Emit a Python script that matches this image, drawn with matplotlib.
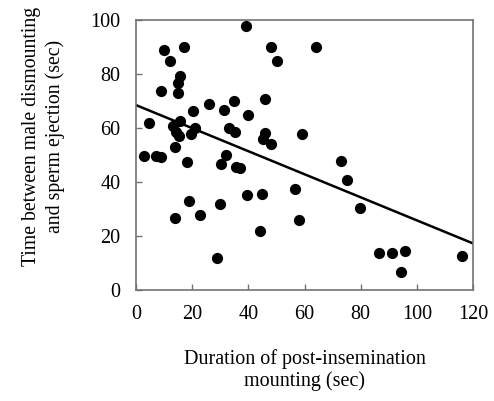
"""Post-insemination mounting duration vs. time to sperm ejection."""

import matplotlib
matplotlib.use("Agg")
import matplotlib.pyplot as plt
import numpy as np

# ---------------------------------------------------------------------------
# Data
# ---------------------------------------------------------------------------
mounting_sec = [
    39.0, 10.0, 17.1, 48.2, 64.1, 12.0, 50.1, 15.7, 15.1, 8.9,
    15.1, 26.0, 35.0, 45.9, 20.4, 31.3, 40.0, 4.5, 15.5, 13.1,
    21.1, 33.0, 35.2, 14.2, 15.2, 19.6, 46.0, 45.1, 48.2, 59.1,
    14.0, 3.0, 7.0, 9.0, 18.0, 32.0, 30.2, 35.6, 37.0, 39.4,
    44.8, 56.5, 58.1, 19.0, 30.0, 14.0, 22.9, 44.0, 28.9, 73.1,
    75.2, 79.8, 86.6, 91.2, 95.8, 94.2, 116.1,
]
ejection_sec = [
    97.9, 89.0, 89.9, 89.9, 89.9, 84.9, 84.9, 79.4, 76.8, 73.8,
    72.8, 68.9, 69.9, 70.9, 66.3, 66.5, 64.9, 61.9, 62.6, 60.7,
    59.9, 60.0, 58.4, 58.4, 57.2, 57.7, 58.0, 55.9, 54.0, 57.9,
    52.8, 49.8, 49.8, 49.3, 47.5, 50.0, 46.8, 45.4, 45.1, 35.3,
    35.4, 37.3, 25.8, 32.8, 31.9, 26.7, 27.8, 21.7, 11.7, 47.9,
    40.7, 30.4, 13.6, 13.6, 14.4, 6.5, 12.6,
]

# regression line as drawn in the figure
fit_intercept = 68.5
fit_slope = -0.427
fit_x = [0, 120]

x_ticks = [0, 20, 40, 60, 80, 100, 120]
y_ticks = [0, 20, 40, 60, 80, 100]

# ---------------------------------------------------------------------------
# Figure
# ---------------------------------------------------------------------------
plt.rcParams.update({
    "font.family": ["Liberation Serif", "DejaVu Serif"],
    "font.size": 14.5,
})

fig = plt.figure(figsize=(4.94, 4.01), dpi=100)
ax = fig.add_axes([0.2753, 0.2768, 0.6822, 0.6732])

ax.scatter(mounting_sec, ejection_sec, s=65, color="black", zorder=3,
           linewidths=0)
fx = np.array(fit_x, dtype=float)
ax.plot(fx, fit_intercept + fit_slope * fx, color="black", linewidth=1.8,
        zorder=2)

ax.set_xlim(0, 120)
ax.set_ylim(0, 100)
ax.set_xticks(x_ticks)
ax.set_yticks(y_ticks)
ax.tick_params(direction="in", length=4, width=1, color="0.45", pad=11)
for sp in ax.spines.values():
    sp.set_color("0.45")
    sp.set_linewidth(1.2)

ax.set_xlabel("Duration of post-insemination\nmounting (sec)", labelpad=18,
              linespacing=1.15)
ax.set_ylabel("Time between male dismounting\nand sperm ejection (sec)",
              fontsize=14.2, linespacing=1.3)
ax.yaxis.set_label_coords(-0.21, 0.57)

fig.savefig("out.png", dpi=100)
plt.close(fig)
